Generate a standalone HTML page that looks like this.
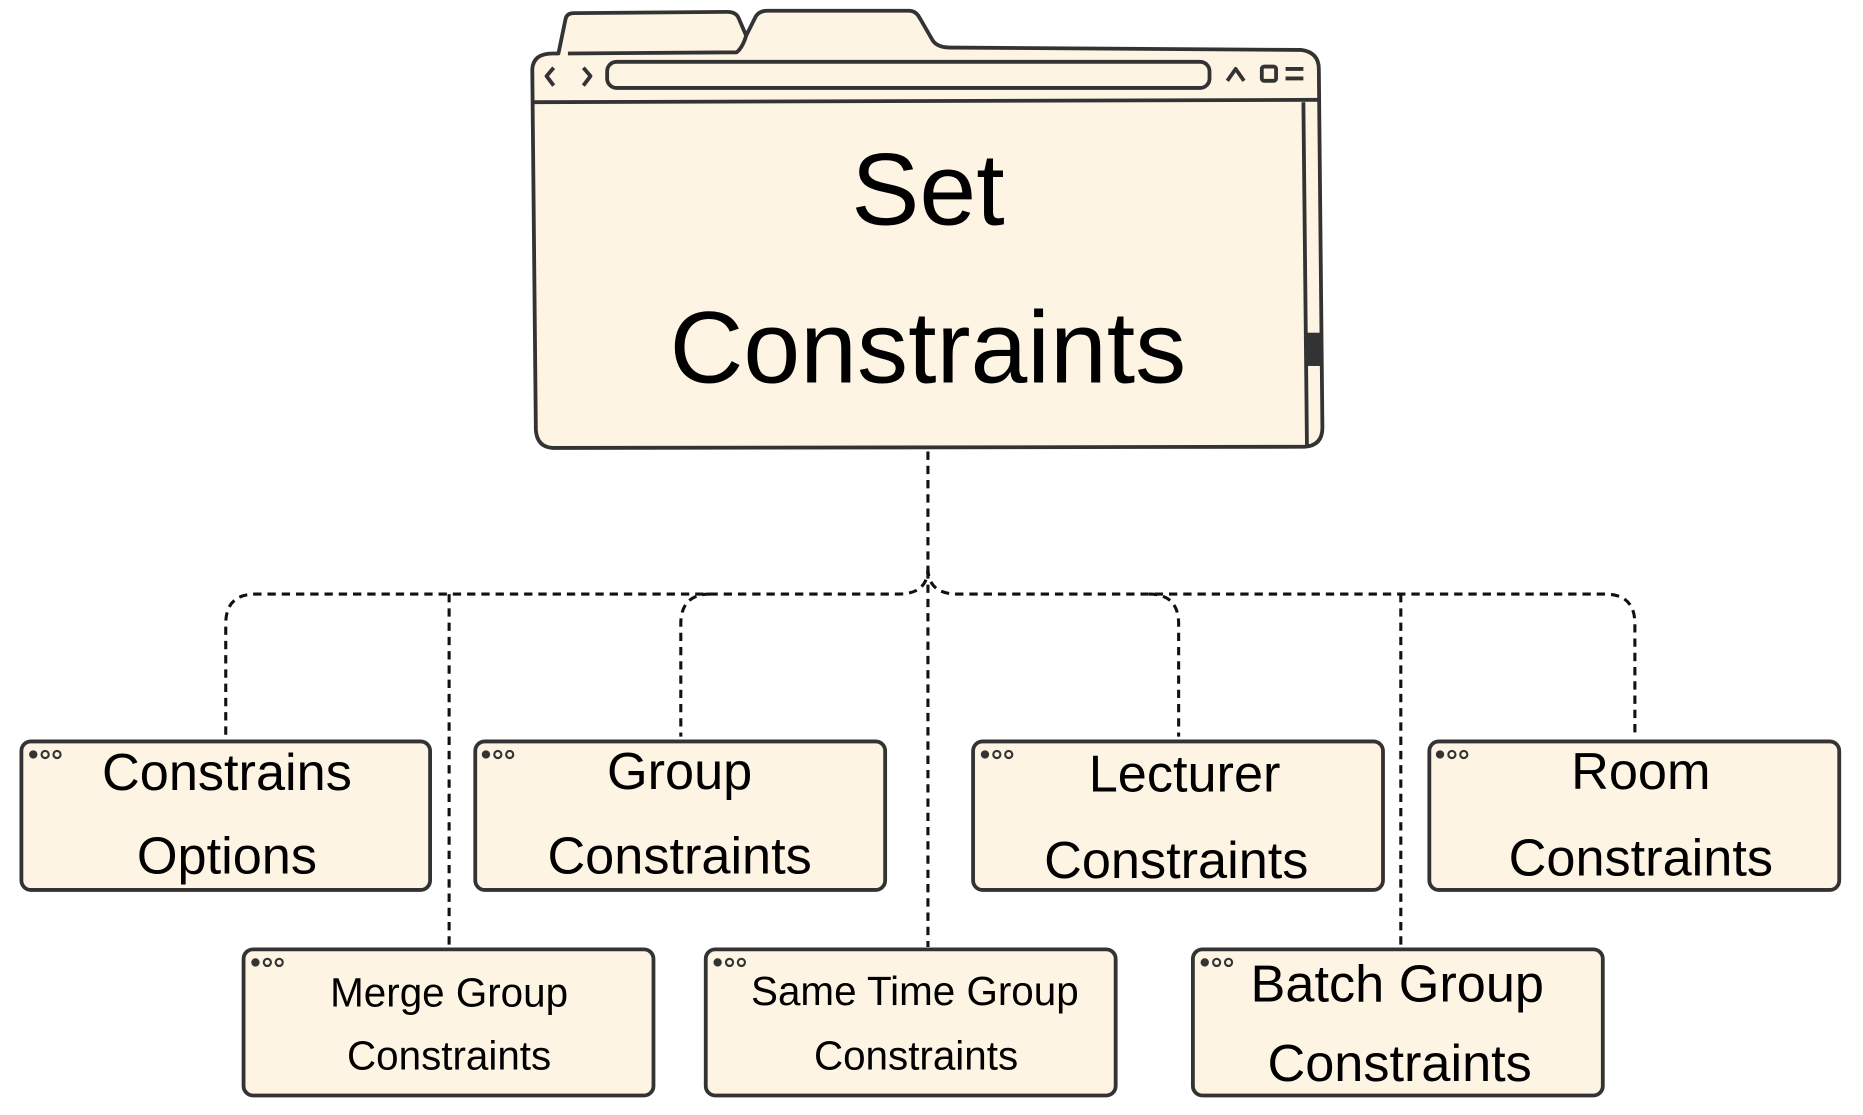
<!DOCTYPE html>
<html><head><meta charset="utf-8"><style>
html,body{margin:0;padding:0;background:#fff;}
svg{display:block}
text{font-family:"Liberation Sans",sans-serif;fill:#000;text-anchor:middle}
</style></head><body>
<svg width="1863" height="1115" viewBox="0 0 1568 938.4" xmlns="http://www.w3.org/2000/svg">
<g fill="#fdf4e3" stroke="#333" stroke-width="3.2" stroke-linejoin="round">
<path d="M470 45 L476 16 Q477 11 483 11 L612 10 Q620 10 622 16 L628 30 L636 14 Q639 9 646 9 L765 9 Q771 9 774 15 L785 34 Q789 40 800 40 L1095 42 Q1110 44 1110 58 L1113 360 Q1113 375 1098 376 L465 377 Q452 376 451 362 L448 58 Q449 45 465 45 Z"/>
<path d="M478 45 L620 44 Q625 40 628 30"/>
<path d="M448 86 L1110 84"/>
<rect x="511" y="52" width="507" height="22" rx="8"/>
<path d="M1097 86 L1100 375"/>
<path d="M466 57 L460 64 L466 72 M491 57 L497 64 L491 72 M1033 68 L1040 58 L1047 68" fill="none"/>
<rect x="1062" y="56" width="12" height="12" rx="2"/>
<path d="M1082 58 H1097 M1082 66 H1097" fill="none"/>
</g>
<rect x="1100" y="280" width="13" height="28" fill="#333"/>
<text x="781" y="189" font-size="86">Set</text>
<text x="781" y="322" font-size="86">Constraints</text>

<g fill="none" stroke="#111" stroke-width="2.6" stroke-dasharray="7 5">
<path d="M781 380 V478 Q781 500 756 500 H215 Q190 500 190 525 V620"/>
<path d="M781 478 Q781 500 806 500 H1351 Q1376 500 1376 525 V620"/>
<path d="M378 500 V797"/>
<path d="M598 500 Q573 500 573 525 V620"/>
<path d="M781 480 V797"/>
<path d="M967 500 Q992 500 992 525 V620"/>
<path d="M1179 500 V797"/>
</g>

<g fill="#fdf4e3" stroke="#333" stroke-width="3.2">
<rect x="18" y="624" width="344" height="125" rx="8"/>
<rect x="400" y="624" width="345" height="125" rx="8"/>
<rect x="819" y="624" width="345" height="125" rx="8"/>
<rect x="1203" y="624" width="345" height="125" rx="8"/>
<rect x="205" y="799" width="345" height="123" rx="8"/>
<rect x="594" y="799" width="345" height="123" rx="8"/>
<rect x="1004" y="799" width="345" height="123" rx="8"/>
</g>
<g fill="none" stroke="#333" stroke-width="1.8">
<circle cx="38" cy="635" r="3"/><circle cx="48" cy="635" r="3"/>
<circle cx="419" cy="635" r="3"/><circle cx="429" cy="635" r="3"/>
<circle cx="839" cy="635" r="3"/><circle cx="849" cy="635" r="3"/>
<circle cx="1222" cy="635" r="3"/><circle cx="1232" cy="635" r="3"/>
<circle cx="225" cy="810" r="3"/><circle cx="235" cy="810" r="3"/>
<circle cx="614" cy="810" r="3"/><circle cx="624" cy="810" r="3"/>
<circle cx="1024" cy="810" r="3"/><circle cx="1034" cy="810" r="3"/>
</g>
<g fill="#333">
<circle cx="28" cy="635" r="3.5"/><circle cx="409" cy="635" r="3.5"/><circle cx="829" cy="635" r="3.5"/><circle cx="1212" cy="635" r="3.5"/>
<circle cx="215" cy="810" r="3.5"/><circle cx="604" cy="810" r="3.5"/><circle cx="1014" cy="810" r="3.5"/>
</g>

<g font-size="44">
<text x="191" y="665">Constrains</text>
<text x="191" y="735">Options</text>
<text x="572" y="664">Group</text>
<text x="572" y="735">Constraints</text>
<text x="997" y="666">Lecturer</text>
<text x="990" y="739">Constraints</text>
<text x="1381" y="664">Room</text>
<text x="1381" y="737">Constraints</text>
<text x="1176" y="843">Batch Group</text>
<text x="1178" y="910">Constraints</text>
</g>
<g font-size="34">
<text x="378" y="847">Merge Group</text>
<text x="378" y="900">Constraints</text>
<text x="770" y="846">Same Time Group</text>
<text x="771" y="900">Constraints</text>
</g>
</svg>
</body></html>
